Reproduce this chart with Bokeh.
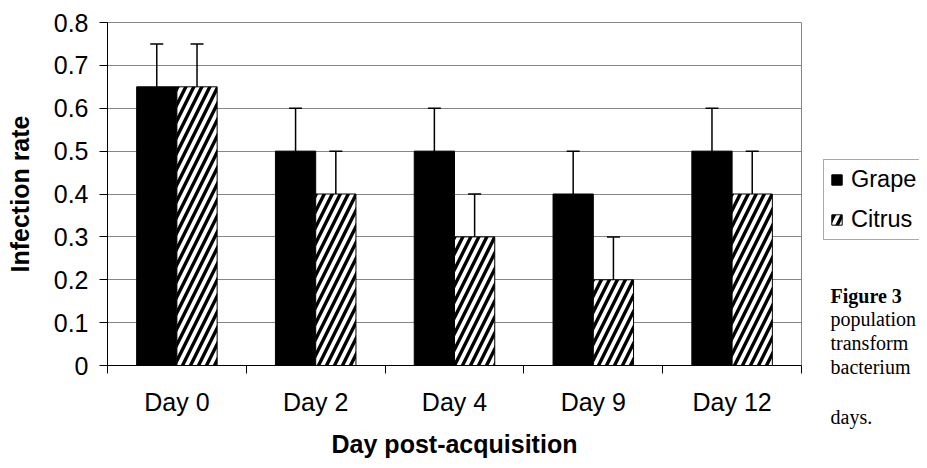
from bokeh.plotting import figure
from bokeh.layouts import row
from bokeh.models import (Range1d, FixedTicker, Whisker, TeeHead, ColumnDataSource,
                          Legend, LegendItem, Label)
from bokeh.transform import dodge
from bokeh.embed import file_html
from bokeh.resources import INLINE

# ---- data ----
categories = ["Day 0", "Day 2", "Day 4", "Day 9", "Day 12"]
series_names = ["Grape", "Citrus"]
grape = [0.65, 0.5, 0.5, 0.4, 0.5]
citrus = [0.65, 0.4, 0.3, 0.2, 0.4]
grape_err = [0.1, 0.1, 0.1, 0.1, 0.1]
citrus_err = [0.1, 0.1, 0.1, 0.1, 0.1]
y_ticks = [0.0, 0.1, 0.2, 0.3, 0.4, 0.5, 0.6, 0.7, 0.8]
y_tick_labels = ["0", "0.1", "0.2", "0.3", "0.4", "0.5", "0.6", "0.7", "0.8"]
x_title = "Day post-acquisition"
y_title = "Infection rate"
caption_lines = ["Figure 3", "population", "transform", "bacterium", "days."]

# ---- layout / style constants ----
SANS = "Liberation Sans"
SERIF = "Liberation Serif"
GRID = "#868686"
BAR_W = 0.29
OFF = 0.145
W_MAIN, W_SIDE, H = 812, 107, 460

n = len(categories)
xc = [i + 0.5 for i in range(n)]
source = ColumnDataSource(dict(
    x=xc, grape=grape, citrus=citrus,
    g_up=[v + e for v, e in zip(grape, grape_err)],
    g_lo=[v - e for v, e in zip(grape, grape_err)],
    c_up=[v + e for v, e in zip(citrus, citrus_err)],
    c_lo=[v - e for v, e in zip(citrus, citrus_err)],
))

p = figure(width=W_MAIN, height=H, x_range=Range1d(0, n), y_range=Range1d(y_ticks[0], y_ticks[-1]),
           output_backend="svg", toolbar_location=None,
           min_border_left=107, min_border_right=W_MAIN - 801, min_border_top=22, min_border_bottom=94)
p.background_fill_color = "white"
p.border_fill_color = "white"
p.outline_line_color = GRID
p.outline_line_width = 1

grape_style = dict(fill_color="black", line_color="black", line_width=1)
citrus_style = dict(fill_color="white", line_color="black", line_width=1,
                    hatch_pattern="/", hatch_color="black", hatch_scale=16, hatch_weight=3.4)

rg = p.vbar(x=dodge("x", -OFF), top="grape", width=BAR_W, source=source, **grape_style)
rc = p.vbar(x=dodge("x", OFF), top="citrus", width=BAR_W, source=source, **citrus_style)

for base, up, lo in [(dodge("x", -OFF), "g_up", "g_lo"), (dodge("x", OFF), "c_up", "c_lo")]:
    w = Whisker(base=base, upper=up, lower=lo, source=source,
                line_color="black", line_width=1.5,
                upper_head=TeeHead(size=13, line_color="black", line_width=1.5),
                lower_head=TeeHead(size=13, line_color="black", line_width=1.5))
    p.add_layout(w)

# x axis: labels centred on categories, ticks on category boundaries
xa = p.xaxis[0]
xa.ticker = FixedTicker(ticks=xc, minor_ticks=list(range(n + 1)))
xa.major_label_overrides = {x: c for x, c in zip(xc, categories)}
xa.major_tick_out = 0
xa.major_tick_in = 0
xa.minor_tick_out = 8
xa.minor_tick_in = 0
xa.minor_tick_line_color = "black"
xa.axis_line_color = "black"
xa.major_label_text_font = SANS
xa.major_label_text_font_size = "25px"
xa.major_label_text_color = "black"
xa.major_label_standoff = 14
xa.axis_label = x_title
xa.axis_label_text_font = SANS
xa.axis_label_text_font_size = "25px"
xa.axis_label_text_font_style = "bold"
xa.axis_label_text_color = "black"
xa.axis_label_standoff = 11

# y axis
ya = p.yaxis[0]
ya.ticker = FixedTicker(ticks=y_ticks)
ya.major_label_overrides = {t: l for t, l in zip(y_ticks, y_tick_labels)}
ya.major_tick_out = 8
ya.major_tick_in = 0
ya.major_tick_line_color = "black"
ya.minor_tick_line_color = None
ya.axis_line_color = "black"
ya.major_label_text_font = SANS
ya.major_label_text_font_size = "25px"
ya.major_label_text_color = "black"
ya.major_label_standoff = 11
ya.axis_label = y_title
ya.axis_label_text_font = SANS
ya.axis_label_text_font_size = "25px"
ya.axis_label_text_font_style = "bold"
ya.axis_label_text_color = "black"
ya.axis_label_standoff = 17

p.xgrid.visible = False
p.ygrid.ticker = FixedTicker(ticks=y_ticks)
p.ygrid.grid_line_color = GRID
p.ygrid.grid_line_width = 1

# ---- side panel: legend + caption (coordinates in pixels from the panel's bottom-left) ----
q = figure(width=W_SIDE, height=H, x_range=Range1d(0, W_SIDE), y_range=Range1d(0, H),
           output_backend="svg", toolbar_location=None,
           x_axis_location=None, y_axis_location=None,
           min_border_left=0, min_border_right=0, min_border_top=0, min_border_bottom=0)
if hasattr(q, "frame_align"):
    q.frame_align = False
    p.frame_align = False
q.grid.visible = False
q.outline_line_color = None
q.background_fill_color = "white"
q.border_fill_color = "white"

# hidden copies of the two bar series, used only to draw the legend swatches
lg = q.vbar(x="x", top="grape", width=BAR_W, source=source, visible=False, **grape_style)
lc = q.vbar(x="x", top="citrus", width=BAR_W, source=source, visible=False, **citrus_style)

legend = Legend(items=[LegendItem(label=series_names[0], renderers=[lg]),
                       LegendItem(label=series_names[1], renderers=[lc])],
                location=(11, H - 240), orientation="vertical",
                padding=6, spacing=13, margin=0,
                glyph_width=13, glyph_height=13, label_standoff=8,
                label_text_font=SANS, label_text_font_size="23.5px", label_text_color="black",
                border_line_color="#555555", border_line_width=1,
                background_fill_color="white", background_fill_alpha=1)
q.add_layout(legend, "center")

cap_x = 830 - W_MAIN
cap_baselines = [295, 318, 342, 366, 416]
for i, (line, b) in enumerate(zip(caption_lines, cap_baselines)):
    q.add_layout(Label(x=cap_x, y=H - b, text=line, text_font=SERIF, text_font_size="20px",
                       text_font_style="bold" if i == 0 else "normal",
                       text_color="black", text_baseline="alphabetic", text_align="left"))

layout = row(p, q, spacing=0)
open("out.html", "w").write(file_html(layout, INLINE))
